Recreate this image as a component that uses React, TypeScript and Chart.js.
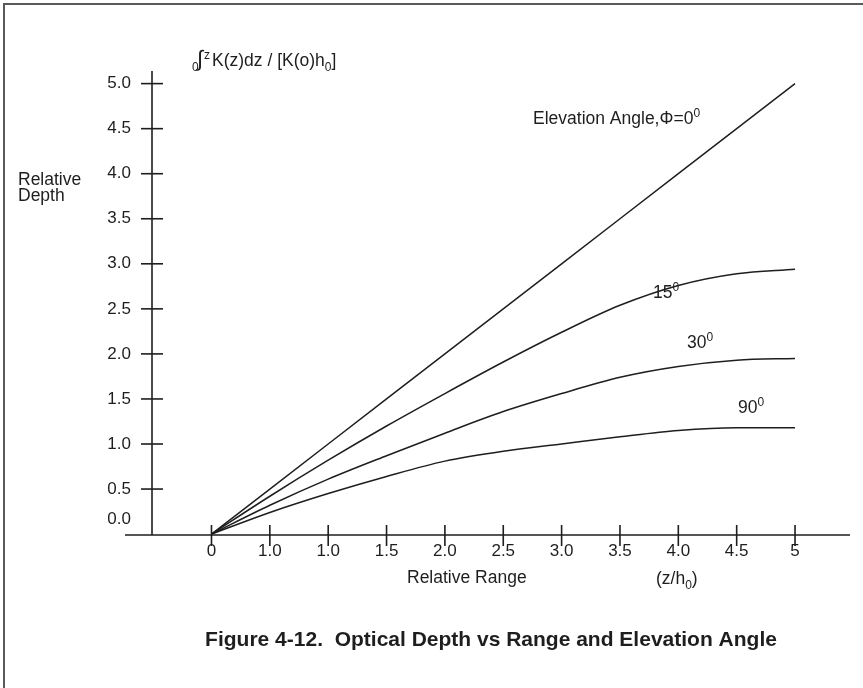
import React, { useEffect, useRef } from "react";
import { Chart, registerables } from "chart.js";

Chart.register(...registerables);

const xValues = [0, 0.5, 1.0, 1.5, 2.0, 2.5, 3.0, 3.5, 4.0, 4.5, 5.0];
const depth0 = [0, 0.5, 1.0, 1.5, 2.0, 2.5, 3.0, 3.5, 4.0, 4.5, 5.0];
const depth15 = [0, 0.42, 0.82, 1.2, 1.56, 1.91, 2.24, 2.54, 2.76, 2.89, 2.94];
const depth30 = [0, 0.32, 0.61, 0.87, 1.12, 1.36, 1.56, 1.74, 1.86, 1.93, 1.95];
const depth90 = [0, 0.24, 0.45, 0.64, 0.81, 0.92, 1.0, 1.08, 1.15, 1.18, 1.18];

const xTickValues = [0, 0.5, 1.0, 1.5, 2.0, 2.5, 3.0, 3.5, 4.0, 4.5, 5.0];
const xTickLabels = ["0", "1.0", "1.0", "1.5", "2.0", "2.5", "3.0", "3.5", "4.0", "4.5", "5"];
const yTickValues = [0.5, 1.0, 1.5, 2.0, 2.5, 3.0, 3.5, 4.0, 4.5, 5.0];
const yTickLabels = ["0.5", "1.0", "1.5", "2.0", "2.5", "3.0", "3.5", "4.0", "4.5", "5.0"];
const yZeroLabel = "0.0";

const FONT = "'Liberation Sans', Arial, Helvetica, sans-serif";
const INK = "#1e1e1e";

type Part = [string, "n" | "sup" | "sub"];

function drawRich(ctx: CanvasRenderingContext2D, x: number, y: number, parts: Part[], size: number) {
  let cx = x;
  ctx.textAlign = "left";
  ctx.textBaseline = "alphabetic";
  for (const [t, kind] of parts) {
    const s = kind === "n" ? size : Math.round(size * 0.68);
    ctx.font = `${s}px ${FONT}`;
    const dy = kind === "sup" ? -size * 0.42 : kind === "sub" ? size * 0.28 : 0;
    ctx.fillText(t, cx, y + dy);
    cx += ctx.measureText(t).width;
  }
}

const figurePlugin = {
  id: "figureDecor",
  afterDraw(chart: any) {
    const ctx: CanvasRenderingContext2D = chart.ctx;
    const xs = chart.scales.x;
    const ys = chart.scales.y;
    const area = chart.chartArea;
    ctx.save();

    // outer frame (top + left)
    ctx.strokeStyle = "#5a5a5a";
    ctx.lineWidth = 2;
    ctx.beginPath();
    ctx.moveTo(4, chart.height);
    ctx.lineTo(4, 4);
    ctx.lineTo(chart.width, 4);
    ctx.stroke();

    // axes
    const axisY = area.bottom;
    const axisX = 152;
    ctx.strokeStyle = INK;
    ctx.lineWidth = 1.6;
    ctx.beginPath();
    ctx.moveTo(area.left, axisY);
    ctx.lineTo(area.right, axisY);
    ctx.moveTo(axisX, area.top);
    ctx.lineTo(axisX, axisY);
    ctx.stroke();

    // y ticks
    ctx.fillStyle = INK;
    ctx.font = `17px ${FONT}`;
    ctx.textAlign = "right";
    ctx.textBaseline = "middle";
    yTickValues.forEach((v, i) => {
      const py = ys.getPixelForValue(v);
      ctx.beginPath();
      ctx.moveTo(axisX - 11, py);
      ctx.lineTo(axisX + 11, py);
      ctx.stroke();
      ctx.fillText(yTickLabels[i], 131, py);
    });
    ctx.fillText(yZeroLabel, 131, ys.getPixelForValue(0) - 15);

    // x ticks
    ctx.textAlign = "center";
    xTickValues.forEach((v, i) => {
      const px = xs.getPixelForValue(v);
      ctx.beginPath();
      ctx.moveTo(px, axisY - 10);
      ctx.lineTo(px, axisY + 11);
      ctx.stroke();
      ctx.fillText(xTickLabels[i], px, 551);
    });

    // axis titles
    ctx.textAlign = "left";
    ctx.font = `17.5px ${FONT}`;
    ctx.fillText("Relative Range", 407, 578);
    drawRich(ctx, 656, 584, [["(z/h", "n"], ["0", "sub"], [")", "n"]], 17.5);

    ctx.textBaseline = "middle";
    ctx.font = `17.5px ${FONT}`;
    ctx.fillText("Relative", 18, 180);
    ctx.fillText("Depth", 18, 196);

    // y quantity label
    drawRich(ctx, 192, 66, [["0", "sub"]], 17);
    ctx.font = `22px ${FONT}`;
    ctx.textBaseline = "alphabetic";
    ctx.fillText("\u222B", 197, 66);
    drawRich(ctx, 204, 66, [["z", "sup"]], 17.5);
    drawRich(ctx, 212, 66, [["K(z)dz / [K(o)h", "n"], ["0", "sub"], ["]", "n"]], 17.5);

    // curve labels
    drawRich(ctx, 533, 124, [["Elevation Angle,\u03A6=0", "n"], ["0", "sup"]], 17.5);
    drawRich(ctx, 653, 298, [["15", "n"], ["0", "sup"]], 17.5);
    drawRich(ctx, 687, 348, [["30", "n"], ["0", "sup"]], 17.5);
    drawRich(ctx, 738, 413, [["90", "n"], ["0", "sup"]], 17.5);

    // caption
    ctx.font = `bold 21px ${FONT}`;
    ctx.textAlign = "center";
    ctx.textBaseline = "middle";
    ctx.fillText("Figure 4-12.  Optical Depth vs Range and Elevation Angle", 491, 640);

    ctx.restore();
  },
};

function toPoints(ys: number[]) {
  return xValues.map((x, i) => ({ x, y: ys[i] }));
}

export default function App() {
  const ref = useRef<HTMLCanvasElement>(null);
  useEffect(() => {
    if (!ref.current) return;
    const lineStyle = {
      borderColor: INK,
      borderWidth: 1.5,
      pointRadius: 0,
      fill: false,
      cubicInterpolationMode: "monotone" as const,
    };
    const chart = new Chart(ref.current, {
      type: "line",
      data: {
        datasets: [
          { label: "0°", data: toPoints(depth0), ...lineStyle },
          { label: "15°", data: toPoints(depth15), ...lineStyle },
          { label: "30°", data: toPoints(depth30), ...lineStyle },
          { label: "90°", data: toPoints(depth90), ...lineStyle },
        ],
      },
      options: {
        responsive: false,
        animation: false,
        layout: { padding: { left: 125, right: 13, top: 71, bottom: 153 } },
        plugins: { legend: { display: false }, tooltip: { enabled: false } },
        scales: {
          x: { type: "linear", min: -0.741, max: 5.471, display: false },
          y: { type: "linear", min: -0.01, max: 5.14, display: false },
        },
      },
      plugins: [figurePlugin],
    });
    return () => chart.destroy();
  }, []);
  return (
    <div style={{ position: "absolute", left: 0, top: 0, width: 863, height: 688, background: "#fff" }}>
      <canvas ref={ref} width={863} height={688} style={{ display: "block" }} />
    </div>
  );
}
